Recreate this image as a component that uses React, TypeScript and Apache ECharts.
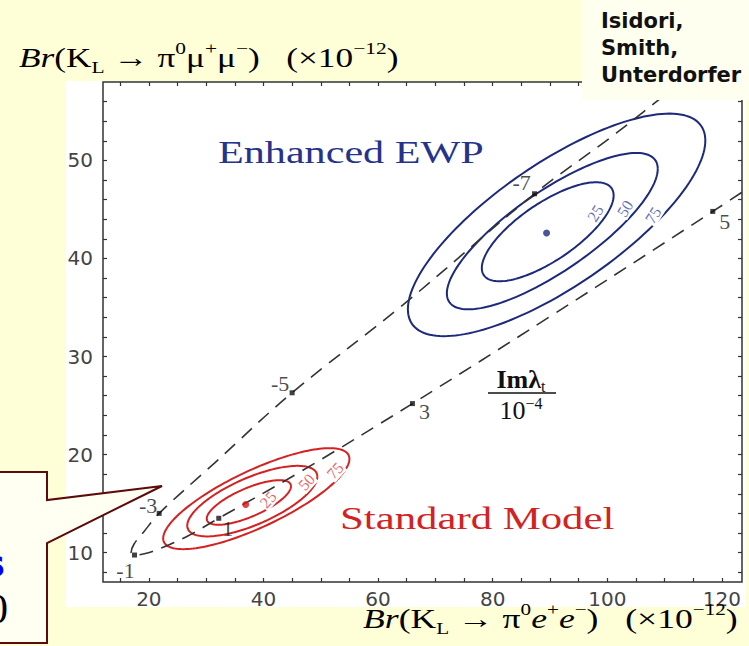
import React, { useEffect, useRef } from 'react';
import * as echarts from 'echarts';

// ---------- data ----------
const xTickValues = [15, 20, 25, 30, 35, 40, 45, 50, 55, 60, 65, 70, 75, 80, 85, 90, 95, 100, 105, 110, 115, 120];
const xLabelValues = [20, 40, 60, 80, 100, 120];
const yTickValues = [8, 10, 12, 14, 16, 18, 20, 22, 24, 26, 28, 30, 32, 34, 36, 38, 40, 42, 44, 46, 48, 50, 52, 54, 56];
const yLabelValues = [10, 20, 30, 40, 50];

// dashed Im(lambda_t) curve (Br_ee, Br_mumu)
const imLambdaCurve: [number, number][] = [
  [116.0, 59.5], [101.6, 52.8], [87.3, 46.6], [64.4, 35.3], [45.0, 26.3], [31.4, 19.1],
  [21.8, 14.0], [19.1, 12.1], [17.4, 10.85], [16.9, 10.0], [17.5, 9.75], [19.4, 9.9],
  [22.5, 10.55], [26.8, 11.7], [32.2, 13.5], [46.6, 18.3], [66.0, 25.2], [89.8, 34.0],
  [118.4, 44.8], [128.0, 48.5],
];
// labelled Im(lambda_t)/1e-4 values on the curve
const imLambdaNames = ['-7', '-5', '-3', '-1', '1', '3', '5'];
const imLambdaX = [87.3, 45.0, 21.8, 17.5, 32.2, 66.0, 118.4];
const imLambdaY = [46.6, 26.3, 14.0, 9.75, 13.5, 25.2, 44.8];

// confidence contours: [xLeftmost, yAtLeftmost, xRightmost, yAtRightmost, yTop, yBottom]
const contourLevels = ['25', '50', '75'];
const smContours = [
  [30.1, 13.5, 44.8, 16.8, 17.35, 12.8],
  [26.7, 12.8, 49.4, 17.8, 18.8, 11.6],
  [22.5, 11.5, 55.0, 19.6, 20.6, 10.3],
];
const ewpContours = [
  [78.1, 39.0, 101.1, 46.4, 47.8, 37.7],
  [72.0, 36.2, 108.8, 48.9, 51.0, 35.05],
  [65.2, 34.7, 117.1, 51.9, 54.9, 32.2],
];
const smLevelLabelAt = [[40.8, 15.4], [47.5, 17.2], [52.5, 18.35]];
const ewpLevelLabelAt = [[97.9, 44.6], [103.1, 45.1], [108.0, 44.4]];
const smCentre = [36.9, 14.9];
const ewpCentre = [89.4, 42.6];

// ---------- styles ----------
const SERIF = '"Liberation Serif", "Times New Roman", serif';
const SANS = '"DejaVu Sans", sans-serif';
const BG = '#FFFFD7';
const NAVY = '#1d2a7c';
const RED = '#d42222';
const tickLabelOffsets = [[-13, -11], [-12, -9], [-11, -8], [-9, 15], [9, 10], [12, 8], [12, 10]];
const markerLabelStyle = { show: true, position: 'inside', formatter: '{b}', color: '#1a1a1a', fontFamily: SERIF, fontSize: 22 };

const ellipseRender = (color: string) => (params: any, api: any) => {
  const xL = api.value(0), yL = api.value(1), xR = api.value(2), yR = api.value(3);
  const yT = api.value(4), yB = api.value(5);
  const cx = (xL + xR) / 2;
  const cy = ((yL + yR) / 2 + (yT + yB) / 2) / 2;
  const ux = (xR - xL) / 2, uy = (yR - yL) / 2;
  const H = (yT - yB) / 2;
  const h = Math.sqrt(Math.max(H * H - uy * uy, 0.01));
  const pts: number[][] = [];
  const n = 160;
  for (let i = 0; i <= n; i++) {
    const t = (i / n) * Math.PI * 2;
    pts.push(api.coord([cx + ux * Math.cos(t), cy + uy * Math.cos(t) + h * Math.sin(t)]));
  }
  return { type: 'polyline', shape: { points: pts }, style: { fill: 'none', stroke: color, lineWidth: 2 }, silent: true };
};

const levelLabelRender = (color: string, rotDeg: number) => (params: any, api: any) => {
  const p = api.coord([api.value(0), api.value(1)]);
  return {
    type: 'text', x: p[0], y: p[1], rotation: (rotDeg * Math.PI) / 180, silent: true,
    style: {
      text: contourLevels[params.dataIndex], fill: color, fontFamily: SERIF, fontSize: 16,
      align: 'center', verticalAlign: 'middle', textAlign: 'center', textVerticalAlign: 'middle',
      backgroundColor: '#ffffff', padding: [0, 1],
    },
  };
};

const tokenStyles = (fs: number, sfs: number) => ({
  n: { fontFamily: SERIF, fontSize: fs, lineHeight: fs + 8, fill: '#000' },
  i: { fontFamily: SERIF, fontSize: fs, fontStyle: 'italic', lineHeight: fs + 8, fill: '#000' },
  sp: { fontFamily: SERIF, fontSize: sfs, lineHeight: sfs, verticalAlign: 'top', fill: '#000' },
  sb: { fontFamily: SERIF, fontSize: sfs, lineHeight: sfs, verticalAlign: 'bottom', fill: '#000' },
});

const option: any = {
  animation: false,
  backgroundColor: BG,
  grid: { left: 103, right: 7, top: 82, bottom: 64, show: true, borderColor: '#333', borderWidth: 1.5, backgroundColor: 'transparent' },
  xAxis: [
    {
      type: 'value', min: 12, max: 123.5, position: 'bottom',
      axisLine: { show: false }, splitLine: { show: false },
      axisTick: { show: true, inside: true, length: 4, customValues: xTickValues, lineStyle: { color: '#333', width: 1.2 } },
      axisLabel: { customValues: xLabelValues, margin: 7, color: '#444', fontFamily: SANS, fontSize: 20 },
    },
    {
      type: 'value', min: 12, max: 123.5, position: 'top',
      axisLine: { show: false }, splitLine: { show: false },
      axisTick: { show: true, inside: true, length: 4, customValues: xTickValues, lineStyle: { color: '#333', width: 1.2 } },
      axisLabel: { show: false },
    },
  ],
  yAxis: [
    {
      type: 'value', min: 7, max: 58, position: 'left',
      axisLine: { show: false }, splitLine: { show: false },
      axisTick: { show: true, inside: true, length: 4, customValues: yTickValues, lineStyle: { color: '#333', width: 1.2 } },
      axisLabel: { customValues: yLabelValues, margin: 10, color: '#444', fontFamily: SANS, fontSize: 20 },
    },
    {
      type: 'value', min: 7, max: 58, position: 'right',
      axisLine: { show: false }, splitLine: { show: false },
      axisTick: { show: true, inside: true, length: 4, customValues: yTickValues, lineStyle: { color: '#333', width: 1.2 } },
      axisLabel: { show: false },
    },
  ],
  series: [
    { type: 'custom', name: 'SM contours', z: 2, renderItem: ellipseRender(RED), data: smContours },
    { type: 'custom', name: 'EWP contours', z: 2, renderItem: ellipseRender(NAVY), data: ewpContours },
    { type: 'custom', name: 'SM levels', z: 3, renderItem: levelLabelRender('#e06a6a', 48), data: smLevelLabelAt },
    { type: 'custom', name: 'EWP levels', z: 3, renderItem: levelLabelRender('#6573b4', 58), data: ewpLevelLabelAt },
    {
      type: 'line', name: 'Im lambda_t', z: 4, data: imLambdaCurve, smooth: 0.4, symbol: 'none', clip: true,
      lineStyle: { color: '#333', width: 1.6, type: [14, 9] },
    },
    {
      type: 'scatter', name: 'Im lambda_t values', z: 5, symbol: 'rect', symbolSize: 5,
      itemStyle: { color: '#111' },
      data: imLambdaNames.map((name, k) => ({
        name, value: [imLambdaX[k], imLambdaY[k]],
        label: { ...markerLabelStyle, offset: tickLabelOffsets[k] },
      })),
      label: markerLabelStyle,
    },
    {
      type: 'scatter', name: 'centres', z: 5, symbol: 'circle', symbolSize: 7,
      data: [
        { value: smCentre, itemStyle: { color: '#e01010' } },
        { value: ewpCentre, itemStyle: { color: NAVY } },
      ],
    },
  ],
  graphic: [
    { type: 'rect', z: -100, silent: true, shape: { x: 66, y: 81, width: 680, height: 526 }, style: { fill: '#ffffff' } },
    // y title
    {
      type: 'text', x: 19, y: 58, scaleX: 1.26, z: 50, silent: true,
      style: {
        text: '{i|Br}{n|(K}{sb|L}{n| → π}{sp|0}{n|μ}{sp|+}{n|μ}{sp|−}{n|)   (×10}{sp|−12}{n|)}',
        rich: tokenStyles(28, 17), verticalAlign: 'middle', textVerticalAlign: 'middle',
      },
    },
    // x title
    {
      type: 'text', x: 363, y: 619, scaleX: 1.32, z: 50, silent: true,
      style: {
        text: '{i|Br}{n|(K}{sb|L}{n| → π}{sp|0}{i|e}{sp|+}{i|e}{sp|−}{n|)   (×10}{sp|−12}{n|)}',
        rich: tokenStyles(27, 16), verticalAlign: 'middle', textVerticalAlign: 'middle',
      },
    },
    {
      type: 'text', x: 218, y: 153, scaleX: 1.36, z: 50, silent: true,
      style: { text: 'Enhanced EWP', fill: '#25338a', fontFamily: SERIF, fontSize: 31, verticalAlign: 'middle', textVerticalAlign: 'middle' },
    },
    {
      type: 'text', x: 340, y: 519, scaleX: 1.38, z: 50, silent: true,
      style: { text: 'Standard Model', fill: RED, fontFamily: SERIF, fontSize: 31, verticalAlign: 'middle', textVerticalAlign: 'middle' },
    },
    // Im lambda_t / 10^-4
    {
      type: 'text', x: 521, y: 379, z: 50, silent: true,
      style: {
        text: '{b|Imλ}{sb|t}', align: 'center', textAlign: 'center', verticalAlign: 'middle', textVerticalAlign: 'middle',
        rich: {
          b: { fontFamily: SERIF, fontSize: 26, fontWeight: 'bold', lineHeight: 30, fill: '#111' },
          sb: { fontFamily: SERIF, fontSize: 16, lineHeight: 16, verticalAlign: 'bottom', fill: '#111' },
        },
      },
    },
    { type: 'line', z: 50, silent: true, shape: { x1: 488, y1: 393, x2: 556, y2: 393 }, style: { stroke: '#111', lineWidth: 1.3 } },
    {
      type: 'text', x: 521, y: 410, z: 50, silent: true,
      style: {
        text: '{n|10}{sp|−4}', align: 'center', textAlign: 'center', verticalAlign: 'middle', textVerticalAlign: 'middle',
        rich: {
          n: { fontFamily: SERIF, fontSize: 26, lineHeight: 30, fill: '#111' },
          sp: { fontFamily: SERIF, fontSize: 16, lineHeight: 16, verticalAlign: 'top', fill: '#111' },
        },
      },
    },
    // author box
    { type: 'rect', z: 100, silent: true, shape: { x: 582, y: 0, width: 167, height: 100 }, style: { fill: '#FFFFF0' } },
    {
      type: 'text', x: 601, y: 7.5, z: 101, silent: true,
      style: {
        text: 'Isidori,\nSmith,\nUnterdorfer', fill: '#111', fontFamily: SANS, fontWeight: 'bold', fontSize: 21,
        lineHeight: 27, verticalAlign: 'top', textVerticalAlign: 'top',
      },
    },
    // callout
    {
      type: 'polygon', z: 100, silent: true,
      shape: { points: [[-3, 472], [47, 472], [47, 500], [162, 486], [47, 543], [47, 643], [-3, 643]] },
      style: { fill: '#FFFFF2', stroke: '#5c0a0a', lineWidth: 2 },
    },
    {
      type: 'text', x: 5, y: 563, z: 101, silent: true,
      style: { text: 's', fill: '#0000ff', fontFamily: SANS, fontWeight: 'bold', fontSize: 36, align: 'right', textAlign: 'right', verticalAlign: 'middle', textVerticalAlign: 'middle' },
    },
    {
      type: 'text', x: 8, y: 609, z: 101, silent: true,
      style: { text: '0', fill: '#000', fontFamily: SERIF, fontSize: 42, align: 'right', textAlign: 'right', verticalAlign: 'middle', textVerticalAlign: 'middle' },
    },
  ],
};

export default function App() {
  const ref = useRef<HTMLDivElement>(null);
  useEffect(() => {
    const chart = echarts.init(ref.current as HTMLDivElement, null, { renderer: 'svg' });
    chart.setOption(option);
    return () => chart.dispose();
  }, []);
  return <div ref={ref} style={{ position: 'fixed', left: 0, top: 0, width: 749, height: 646 }} />;
}
